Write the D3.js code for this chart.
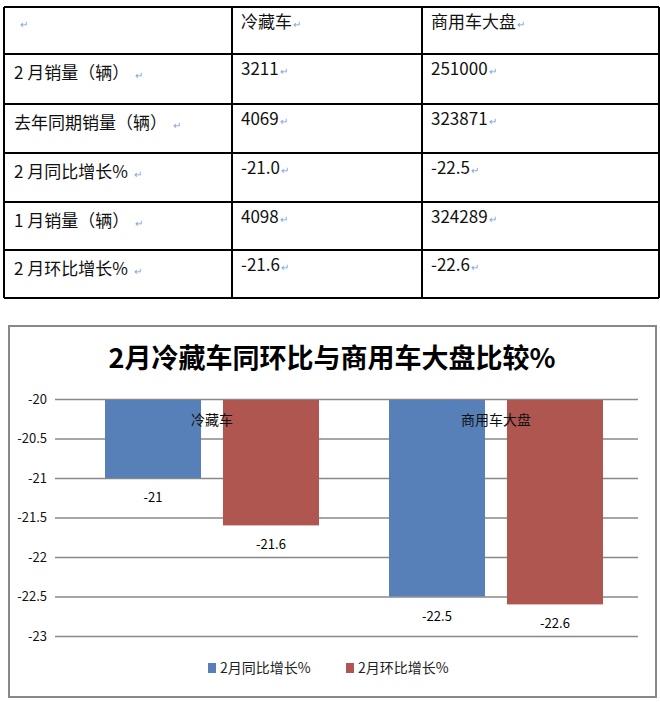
<!DOCTYPE html>
<html><head><meta charset="utf-8">
<script src="https://cdn.jsdelivr.net/npm/d3@7"></script>
<style>body{margin:0;background:#fff}svg{display:block}</style>
</head><body><svg id="chart"></svg>
<script>
// table data
const tableHeader = ["", "冷藏车", "商用车大盘"]
const tableRows = [
	["2 月销量（辆）", "3211", "251000"],
	["去年同期销量（辆）", "4069", "323871"],
	["2 月同比增长%", "-21.0", "-22.5"],
	["1 月销量（辆）", "4098", "324289"],
	["2 月环比增长%", "-21.6", "-22.6"]
]
// chart data
const categories = ["冷藏车", "商用车大盘"]
const seriesNames = ["2月同比增长%", "2月环比增长%"]
const yoy = [-21, -22.5]
const mom = [-21.6, -22.6]
const yTicks = [-20, -20.5, -21, -21.5, -22, -22.5, -23]
const colors = ["#5880b8", "#b05651"]

const font = "'Noto Sans CJK SC', sans-serif"
const svg = d3.select("#chart").attr("width", 660).attr("height", 702)

// ---- table ----
const colX = [4, 232, 422, 659]
const rowY = [7, 54, 104, 153, 202, 250, 298]
const tbl = svg.append("g")
rowY.forEach(y => tbl.append("line").attr("x1", 4).attr("x2", 659).attr("y1", y).attr("y2", y)
	.attr("stroke", "#000").attr("stroke-width", 2))
colX.forEach(x => tbl.append("line").attr("x1", x).attr("x2", x).attr("y1", 7).attr("y2", 298)
	.attr("stroke", "#000").attr("stroke-width", 2))
const allRows = [tableHeader].concat(tableRows)
allRows.forEach((row, i) => {
	row.forEach((cell, j) => {
		const t = tbl.append("text").attr("x", colX[j] + (j == 0 ? 10 : 9))
			.attr("y", rowY[i] + (j == 0 && i > 0 ? 25 : 21))
			.attr("font-family", font).attr("font-size", 17).attr("fill", "#111")
		t.append("tspan").text(cell)
		t.append("tspan").text("↵").attr("fill", "#7fa3d6").attr("font-size", 10)
			.attr("dx", j == 0 ? 6 : 1)
	})
})

// ---- chart ----
svg.append("rect").attr("x", 9).attr("y", 326).attr("width", 647).attr("height", 371)
	.attr("fill", "#fff").attr("stroke", "#888").attr("stroke-width", 2)
svg.append("text").attr("x", 332).attr("y", 368).attr("text-anchor", "middle")
	.attr("font-family", font).attr("font-size", 27).attr("font-weight", "bold")
	.text("2月冷藏车同环比与商用车大盘比较%")

const y = d3.scaleLinear().domain([-20, -23]).range([399, 636])
const x0 = d3.scaleBand().domain(categories).range([55, 623])
const x1 = d3.scaleBand().domain(seriesNames).range([50, 264]).paddingInner(0.186)

const axis = d3.axisLeft(y).tickValues(yTicks).tickSize(-583).tickFormat(d => d)
const ga = svg.append("g").attr("transform", "translate(55,0)").call(axis)
ga.select(".domain").remove()
ga.selectAll("line").attr("stroke", "#888").attr("stroke-width", 1.5)
ga.selectAll("text").attr("font-family", font).attr("font-size", 13).attr("fill", "#111").attr("x", -8)

const series = [yoy, mom]
categories.forEach((c, i) => {
	series.forEach((s, k) => {
		const bx = x0(c) + x1(seriesNames[k])
		svg.append("rect").attr("x", bx).attr("y", y(-20) + 1)
			.attr("width", x1.bandwidth()).attr("height", y(s[i]) - y(-20) - 1).attr("fill", colors[k])
		svg.append("text").attr("x", bx + x1.bandwidth() / 2).attr("y", y(s[i]) + 24)
			.attr("text-anchor", "middle").attr("font-family", font).attr("font-size", 13).text(s[i])
	})
	svg.append("text").attr("x", x0(c) + 157).attr("y", 425).attr("text-anchor", "middle")
		.attr("font-family", font).attr("font-size", 14).attr("fill", "#111").text(c)
})

// legend
const lx = [208, 346]
seriesNames.forEach((n, k) => {
	svg.append("rect").attr("x", lx[k]).attr("y", 663).attr("width", 8).attr("height", 10).attr("fill", colors[k])
	svg.append("text").attr("x", lx[k] + 12).attr("y", 673).attr("font-family", font).attr("font-size", 14)
		.attr("fill", "#222").text(n)
})
</script></body></html>
